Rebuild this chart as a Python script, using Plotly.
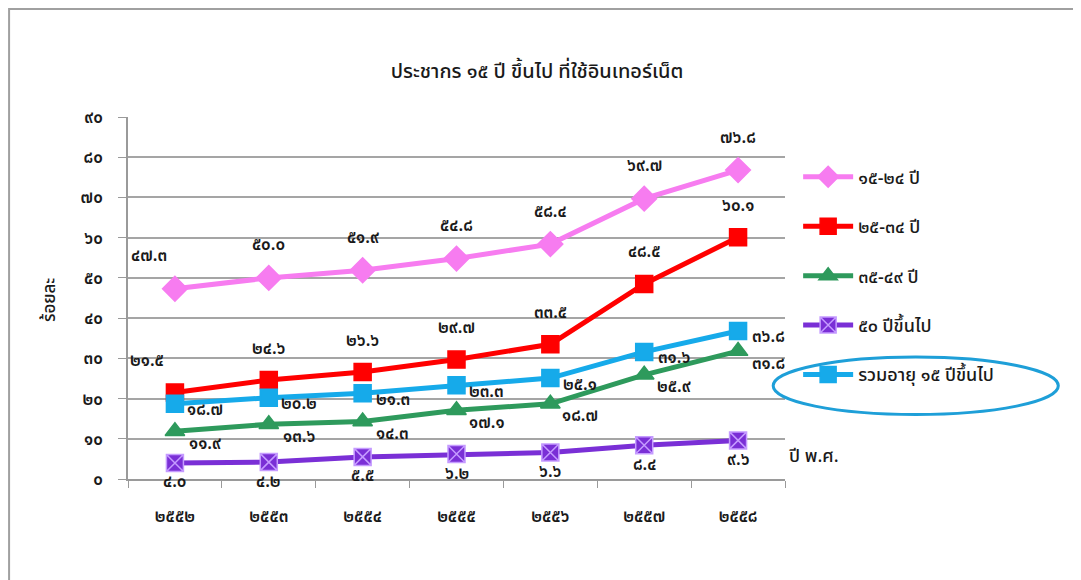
import plotly.graph_objects as go

# ปี พ.ศ.
years = ['๒๕๕๒', '๒๕๕๓', '๒๕๕๔', '๒๕๕๕', '๒๕๕๖', '๒๕๕๗', '๒๕๕๘']

age_15_24 = [47.3, 50.0, 51.9, 54.8, 58.4, 69.7, 76.8]
age_25_34 = [21.5, 24.6, 26.6, 29.7, 33.5, 48.5, 60.1]
age_35_49 = [11.9, 13.6, 14.3, 17.1, 18.7, 25.9, 31.8]
age_50_up = [4.0, 4.2, 5.5, 6.2, 6.6, 8.4, 9.6]
age_total = [18.7, 20.2, 21.3, 23.3, 25.1, 31.6, 36.8]

y_ticks = list(range(0, 91, 10))

THAI = str.maketrans('0123456789', '๐๑๒๓๔๕๖๗๘๙')


def thai_num(v, fmt='{:.1f}'):
    return fmt.format(v).translate(THAI)


FONT = 'Noto Sans, Noto Sans Thai, sans-serif'
INK = '#1a1a1a'

series = [
    # name, values, color, symbol, marker line, label shift (dx, dy), extra dx on first label
    ('๑๕-๒๔ ปี', age_15_24, '#F77CF0', 'diamond', '#F77CF0', (0, 34), -26),
    ('๒๕-๓๔ ปี', age_25_34, '#FF0000', 'square', '#FF0000', (0, 33), -28),
    ('๓๕-๔๙ ปี', age_35_49, '#2E9A5C', 'triangle-up', '#2E9A5C', (30, -11), 0),
    ('๕๐ ปีขึ้นไป', age_50_up, '#7A2FD6', 'square-x', '#C59BFF', (0, -18), 0),
    ('รวมอายุ ๑๕ ปีขึ้นไป', age_total, '#16AAEA', 'square', '#16AAEA', (30, -5), 0),
]

fig = go.Figure()
annotations = []

for i, (name, vals, color, symbol, mline, (dx, dy), first_dx) in enumerate(series):
    fig.add_trace(go.Scatter(
        x=years, y=vals, name=name, mode='lines+markers',
        legendgroup='g%d' % i,
        line=dict(color=color, width=5),
        marker=dict(symbol=symbol, size=17 if symbol != 'diamond' else 19,
                    color=color, line=dict(color=mline, width=1.5)),
    ))
    for j, (x, v) in enumerate(zip(years, vals)):
        annotations.append(dict(
            x=x, y=v, xref='x', yref='y', text=thai_num(v),
            showarrow=False, xshift=dx + (first_dx if j == 0 else 0), yshift=dy,
            font=dict(family=FONT, size=17, color=INK, weight=600),
        ))

annotations += [
    dict(x=1.044, y=0.066, xref='paper', yref='paper', text='ปี พ.ศ.',
         xanchor='center', yanchor='middle', showarrow=False,
         font=dict(family=FONT, size=18, color=INK, weight=500)),
    dict(x=-0.122, y=0.494, xref='paper', yref='paper', text='ร้อยละ',
         xanchor='center', yanchor='middle', textangle=-90, showarrow=False,
         font=dict(family=FONT, size=17, color=INK, weight=500)),
]

fig.update_layout(
    width=1073, height=572,
    paper_bgcolor='white', plot_bgcolor='white',
    margin=dict(l=120, r=296, t=109, b=101),
    title=dict(text='ประชากร ๑๕ ปี ขึ้นไป ที่ใช้อินเทอร์เน็ต',
               x=0.493, xref='container', xanchor='center',
               y=0.89, yref='container', yanchor='middle',
               font=dict(family=FONT, size=20, color=INK, weight=500)),
    font=dict(family=FONT, size=17, color=INK),
    showlegend=True,
    legend=dict(x=1.02, y=0.885, xref='paper', yref='paper',
                xanchor='left', yanchor='top',
                font=dict(family=FONT, size=18, color=INK, weight=500),
                tracegroupgap=23, itemwidth=50,
                bgcolor='rgba(0,0,0,0)'),
    annotations=annotations,
    shapes=[
        dict(type='circle', xref='paper', yref='paper',
             x0=0.982, x1=1.416, y0=0.178, y1=0.337,
             line=dict(color='#1E9FD8', width=3)),
        dict(type='rect', xref='paper', yref='paper',
             x0=-0.181, x1=1.449, y0=-0.5, y1=1.298,
             line=dict(color='#A0A0A0', width=2)),
    ],
)

fig.update_xaxes(
    type='category', range=[-0.5, 6.5],
    showgrid=False, showline=True, linecolor='#9A9A9A', linewidth=1.5,
    ticks='outside', tickson='boundaries', ticklen=7, tickcolor='#9A9A9A',
    ticklabelstandoff=21,
    tickfont=dict(family=FONT, size=17, color=INK, weight=600),
)
fig.update_yaxes(
    range=[0, 90], tickvals=y_ticks,
    ticktext=[thai_num(t, '{:d}') for t in y_ticks],
    showgrid=True, gridcolor='#A5A5A5', gridwidth=1.5,
    showline=True, linecolor='#9A9A9A', linewidth=1.5,
    ticks='outside', ticklen=8, tickcolor='#9A9A9A',
    ticklabelstandoff=12, zeroline=False,
    tickfont=dict(family=FONT, size=17, color=INK, weight=600),
)

fig.write_html("out.html")
